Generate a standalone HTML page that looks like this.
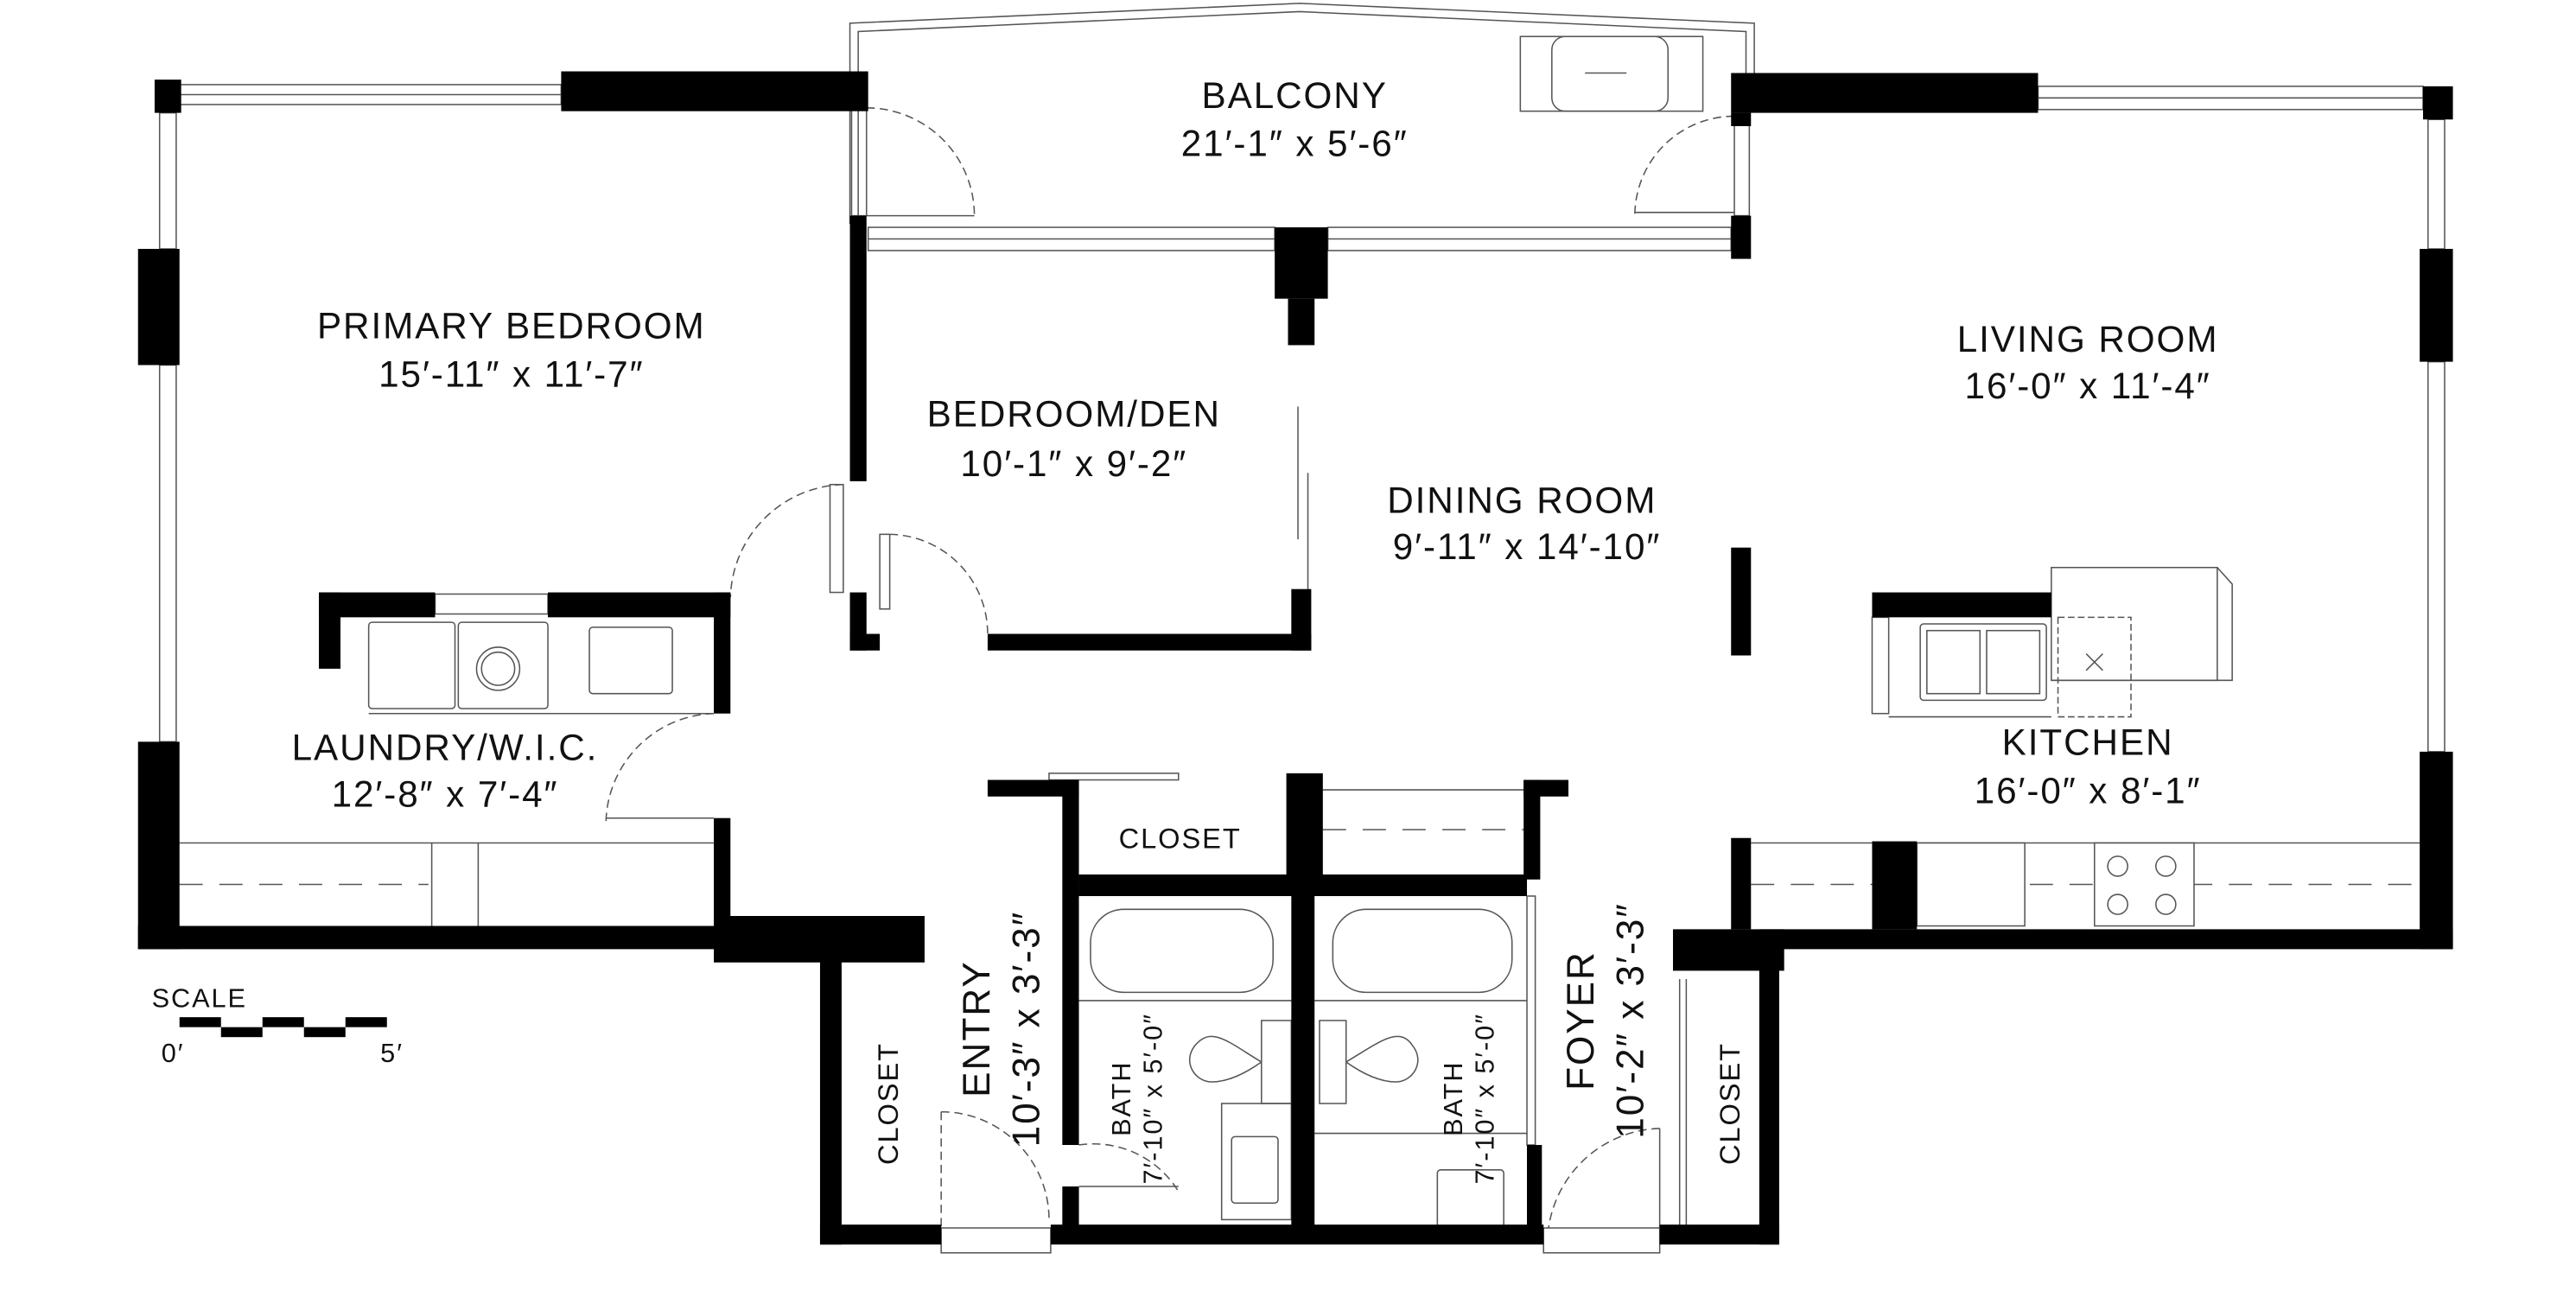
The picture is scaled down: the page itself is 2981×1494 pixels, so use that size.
<!DOCTYPE html>
<html><head><meta charset="utf-8"><style>
html,body{margin:0;padding:0;background:#fff;}
svg{display:block;}
text{font-family:"Liberation Sans",sans-serif;fill:#111;}
</style></head><body>
<svg width="2981" height="1494" viewBox="0 0 1552 778" xmlns="http://www.w3.org/2000/svg">
<rect width="1552" height="778" fill="#fff"/>
<g fill="none" stroke="#555" stroke-width="0.8">
<polyline points="512,135 512,14 783,2 1057,14 1057,45"/>
<polyline points="517,135 517,19 783,7 1052,19 1052,45"/>
<rect x="108" y="51" width="230" height="12"/><line x1="108" y1="57" x2="338" y2="57"/>
<rect x="96" y="68" width="10" height="82"/><rect x="96" y="220" width="10" height="227"/>
<rect x="1228" y="52" width="232" height="14"/><line x1="1228" y1="59" x2="1460" y2="59"/>
<rect x="1463" y="72" width="10" height="78"/><rect x="1463" y="218" width="10" height="235"/>
<rect x="523" y="137" width="245" height="14"/><rect x="800" y="137" width="243" height="14"/>
<line x1="523" y1="144" x2="768" y2="144"/><line x1="800" y1="144" x2="1043" y2="144"/>
<rect x="513" y="65" width="9" height="65"/><path d="M522,65 A65,65 0 0 1 587,130" stroke-dasharray="5,3"/><line x1="522" y1="130" x2="587" y2="130"/>
<rect x="1045" y="70" width="9" height="60"/><path d="M1045,70 A60,60 0 0 0 985,130" stroke-dasharray="5,3"/><line x1="985" y1="128" x2="1045" y2="128"/>
<rect x="916" y="22" width="110" height="45"/><rect x="935" y="22" width="70" height="45" rx="8"/><line x1="955" y1="44" x2="980" y2="44"/>
<rect x="500" y="292" width="8" height="65"/><path d="M508,292 A70,70 0 0 0 440,360" stroke-dasharray="5,3"/>
<rect x="530" y="322" width="6" height="45"/><path d="M536,322 A60,60 0 0 1 595,382" stroke-dasharray="5,3"/>
<line x1="782" y1="245" x2="782" y2="325"/><line x1="788" y1="285" x2="788" y2="355"/>
<rect x="262" y="358" width="68" height="12"/>
<rect x="222" y="375" width="52" height="52" rx="2"/><rect x="276" y="375" width="54" height="52" rx="2"/>
<circle cx="300" cy="403" r="13"/><circle cx="300" cy="403" r="10"/>
<rect x="355" y="378" width="50" height="40" rx="2"/>
<line x1="222" y1="430" x2="430" y2="430"/>
<path d="M430,430 A67,67 0 0 0 365,495" stroke-dasharray="5,3"/><line x1="365" y1="493" x2="430" y2="493"/>
<line x1="108" y1="508" x2="430" y2="508"/><line x1="260" y1="508" x2="260" y2="558"/><line x1="288" y1="508" x2="288" y2="558"/>
<line x1="108" y1="533" x2="258" y2="533" stroke-dasharray="14,10"/>
<rect x="632" y="466" width="78" height="4"/>
<line x1="797" y1="476" x2="920" y2="476"/><line x1="797" y1="500" x2="920" y2="500" stroke-dasharray="14,10"/>
<rect x="657" y="548" width="110" height="50" rx="20"/><rect x="803" y="548" width="108" height="50" rx="20"/>
<line x1="650" y1="603" x2="778" y2="603"/><line x1="792" y1="603" x2="920" y2="603"/>
<path d="M760,615 h18 v50 h-18 z M760,640 c-20,-12 -30,-22 -40,-10 c-8,10 0,22 10,22 c10,0 20,-5 30,-12"/>
<path d="M795,615 h16 v50 h-16 z M811,640 c20,-12 32,-22 40,-10 c8,10 0,22 -10,22 c-10,0 -20,-5 -30,-12"/>
<rect x="736" y="665" width="42" height="70"/><rect x="742" y="685" width="28" height="40" rx="2"/>
<line x1="792" y1="683" x2="920" y2="683"/><rect x="866" y="705" width="40" height="35" rx="2"/>
<rect x="920" y="540" width="5" height="150"/>
<path d="M567,670 v70 M567,670 A65,65 0 0 1 632,735" stroke-dasharray="5,3"/>
<path d="M650,690 A60,60 0 0 1 710,718" stroke-dasharray="5,3"/><line x1="650" y1="715" x2="710" y2="715"/>
<rect x="567" y="740" width="66" height="15"/><rect x="930" y="740" width="70" height="15"/>
<path d="M1000,680 A70,70 0 0 0 933,740" stroke-dasharray="5,3"/><line x1="1000" y1="680" x2="1000" y2="740"/>
<line x1="1012" y1="590" x2="1012" y2="740"/><line x1="1016" y1="590" x2="1016" y2="740"/>
<rect x="1236" y="342" width="100" height="68"/><polyline points="1336,342 1345,352 1345,410 1236,410"/>
<rect x="1128" y="372" width="10" height="58"/>
<rect x="1157" y="376" width="76" height="46" rx="2"/><rect x="1161" y="380" width="32" height="38"/><rect x="1197" y="380" width="32" height="38"/>
<rect x="1240" y="372" width="44" height="60" stroke-dasharray="4,2"/><path d="M1257,394 l10,10 M1267,394 l-10,10"/>
<line x1="1138" y1="432" x2="1236" y2="432"/>
<line x1="1055" y1="508" x2="1458" y2="508"/><line x1="1055" y1="533" x2="1458" y2="533" stroke-dasharray="14,10"/>
<rect x="1155" y="508" width="65" height="50" fill="#fff"/><rect x="1262" y="508" width="60" height="50" fill="#fff"/>
<circle cx="1276" cy="522" r="6"/><circle cx="1305" cy="522" r="6"/><circle cx="1276" cy="545" r="6"/><circle cx="1305" cy="545" r="6"/>
</g>
<g fill="#000">
<rect x="93" y="48" width="16" height="20"/><rect x="338" y="43" width="185" height="24"/>
<rect x="83" y="150" width="25" height="70"/><rect x="83" y="447" width="25" height="125"/>
<rect x="83" y="558" width="360" height="14"/><rect x="430" y="552" width="127" height="28"/>
<rect x="1043" y="44" width="185" height="24"/><rect x="1043" y="68" width="12" height="8"/><rect x="1043" y="130" width="12" height="26"/>
<rect x="1460" y="52" width="18" height="20"/><rect x="1458" y="150" width="20" height="68"/>
<rect x="1458" y="453" width="20" height="119"/><rect x="1060" y="560" width="418" height="12"/>
<rect x="1008" y="560" width="67" height="25"/>
<rect x="512" y="130" width="10" height="160"/><rect x="512" y="357" width="10" height="35"/><rect x="512" y="382" width="18" height="10"/>
<rect x="595" y="382" width="195" height="10"/><rect x="778" y="355" width="12" height="37"/>
<rect x="768" y="137" width="32" height="43"/><rect x="776" y="180" width="16" height="28"/>
<rect x="1043" y="330" width="12" height="65"/>
<rect x="192" y="357" width="70" height="15"/><rect x="330" y="357" width="110" height="15"/>
<rect x="192" y="357" width="13" height="46"/><rect x="430" y="357" width="10" height="73"/><rect x="430" y="493" width="10" height="67"/>
<rect x="494" y="572" width="13" height="178"/><rect x="494" y="738" width="73" height="12"/>
<rect x="633" y="738" width="297" height="12"/><rect x="1000" y="738" width="72" height="12"/>
<rect x="1060" y="575" width="12" height="175"/>
<rect x="595" y="470" width="55" height="10"/><rect x="640" y="470" width="10" height="220"/><rect x="640" y="715" width="10" height="25"/>
<rect x="650" y="527" width="270" height="13"/>
<rect x="775" y="466" width="22" height="64"/><rect x="778" y="530" width="14" height="210"/>
<rect x="918" y="470" width="27" height="10"/><rect x="918" y="470" width="10" height="60"/><rect x="920" y="690" width="9" height="50"/>
<rect x="1043" y="505" width="12" height="55"/><rect x="1128" y="507" width="27" height="53"/>
<rect x="1128" y="357" width="108" height="15"/>
<rect x="108" y="613" width="25" height="6"/><rect x="133" y="619" width="25" height="6"/><rect x="158" y="613" width="25" height="6"/><rect x="183" y="619" width="25" height="6"/><rect x="208" y="613" width="25" height="6"/>
</g>
<g font-size="22" text-anchor="middle" letter-spacing="1">
<text x="780" y="65">BALCONY</text><text x="780" y="94">21′-1″  x  5′-6″</text>
<text x="308" y="204">PRIMARY BEDROOM</text><text x="308" y="233">15′-11″  x  11′-7″</text>
<text x="647" y="257">BEDROOM/DEN</text><text x="647" y="287">10′-1″  x  9′-2″</text>
<text x="917" y="309">DINING ROOM</text><text x="920" y="337">9′-11″  x 14′-10″</text>
<text x="1258" y="212">LIVING ROOM</text><text x="1258" y="240">16′-0″ x  11′-4″</text>
<text x="1258" y="455">KITCHEN</text><text x="1258" y="484">16′-0″ x  8′-1″</text>
<text x="268" y="458">LAUNDRY/W.I.C.</text><text x="268" y="486">12′-8″  x  7′-4″</text>
<text x="711" y="511" font-size="17">CLOSET</text>
<text x="120" y="607" font-size="16">SCALE</text><text x="104" y="640" font-size="16">0′</text><text x="236" y="640" font-size="16">5′</text>
<text transform="translate(541,665) rotate(-90)" font-size="17">CLOSET</text>
<text transform="translate(1048,665) rotate(-90)" font-size="17">CLOSET</text>
<text transform="translate(596,620) rotate(-90)" font-size="23">ENTRY</text>
<text transform="translate(626,620) rotate(-90)" font-size="23">10′-3″ x  3′-3″</text>
<text transform="translate(681,662) rotate(-90)" font-size="16">BATH</text>
<text transform="translate(700,662) rotate(-90)" font-size="16">7′-10″ x  5′-0″</text>
<text transform="translate(881,662) rotate(-90)" font-size="16">BATH</text>
<text transform="translate(900,662) rotate(-90)" font-size="16">7′-10″ x  5′-0″</text>
<text transform="translate(960,615) rotate(-90)" font-size="23">FOYER</text>
<text transform="translate(990,615) rotate(-90)" font-size="23">10′-2″ x  3′-3″</text>
</g>
</svg>
</body></html>
